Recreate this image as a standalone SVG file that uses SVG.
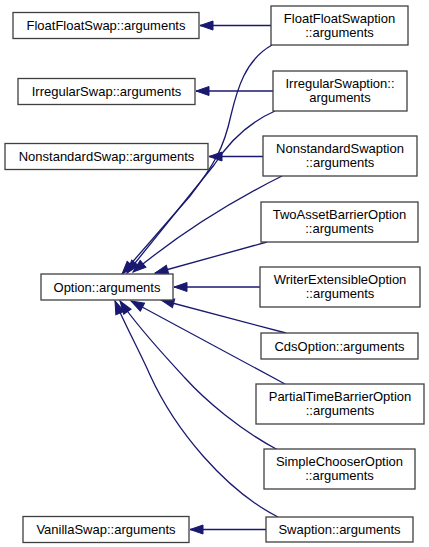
<svg xmlns="http://www.w3.org/2000/svg" width="429" height="547" viewBox="0 0 429 547">
<style>
.box{fill:#fff;stroke:#404040;stroke-width:1.3}
.t{font-family:"Liberation Sans",Arial,sans-serif;font-size:13px;fill:#000;text-anchor:middle}
.e{fill:none;stroke:#191970;stroke-width:1.3;marker-end:url(#ah)}
</style>
<defs>
<marker id="ah" markerUnits="userSpaceOnUse" markerWidth="14" markerHeight="10" refX="13" refY="4.5" orient="auto" overflow="visible">
<path d="M0,0 L13,4.5 L0,9 z" fill="#191970" stroke="#191970" stroke-width="1"/>
</marker>
</defs>
<rect width="429" height="547" fill="#fff"/>
<g id="connectors">
<path class="e" d="M271,25.5 L200,25.5"/>
<path class="e" d="M273,91 L196,91"/>
<path class="e" d="M263,156.5 L209,156.5"/>
<path class="e" d="M260,287 L174,287"/>
<path class="e" d="M266,529.5 L190,529.5"/>
<path class="e" d="M272,45 C245,60 237,90 231,115 C224,148 214,165 190,196 L122,274"/>
<path class="e" d="M275,111 C250,122 230,140 214,165 L127,273"/>
<path class="e" d="M282,176 C250,192 190,225 133,272"/>
<path class="e" d="M267,242 L155,273"/>
<path class="e" d="M286,333 L161,300"/>
<path class="e" d="M285,384 L131,301"/>
<path class="e" d="M278,450 C240,430 205,400 185,378 C165,356 140,330 120,301"/>
<path class="e" d="M278,517 C225,490 175,430 150,375 C140,352 125,325 115,301"/>
</g>
<g id="FloatFloatSwap">
<rect class="box" x="13" y="12.5" width="186" height="26"/>
<text class="t" x="106" y="30">FloatFloatSwap::arguments</text>
</g>
<g id="IrregularSwap">
<rect class="box" x="18" y="78.5" width="177" height="26"/>
<text class="t" x="106.5" y="96">IrregularSwap::arguments</text>
</g>
<g id="NonstandardSwap">
<rect class="box" x="5" y="143.5" width="203" height="26"/>
<text class="t" x="106.5" y="161">NonstandardSwap::arguments</text>
</g>
<g id="Option">
<rect class="box" x="41" y="274" width="132" height="26"/>
<text class="t" x="107" y="291.5">Option::arguments</text>
</g>
<g id="VanillaSwap">
<rect class="box" x="23" y="516.5" width="166" height="26"/>
<text class="t" x="106" y="534">VanillaSwap::arguments</text>
</g>
<g id="FloatFloatSwaption">
<rect class="box" x="271" y="6" width="137" height="39"/>
<text class="t" x="339.5" y="22.5">FloatFloatSwaption</text>
<text class="t" x="339.5" y="37">::arguments</text>
</g>
<g id="IrregularSwaption">
<rect class="box" x="273" y="71" width="134" height="40"/>
<text class="t" x="340" y="88">IrregularSwaption::</text>
<text class="t" x="340" y="102">arguments</text>
</g>
<g id="NonstandardSwaption">
<rect class="box" x="263" y="136" width="154" height="40"/>
<text class="t" x="340" y="153">NonstandardSwaption</text>
<text class="t" x="340" y="167">::arguments</text>
</g>
<g id="TwoAssetBarrierOption">
<rect class="box" x="261" y="202" width="157" height="40"/>
<text class="t" x="339.5" y="219">TwoAssetBarrierOption</text>
<text class="t" x="339.5" y="233">::arguments</text>
</g>
<g id="WriterExtensibleOption">
<rect class="box" x="260" y="267" width="160" height="40"/>
<text class="t" x="340" y="284">WriterExtensibleOption</text>
<text class="t" x="340" y="298">::arguments</text>
</g>
<g id="CdsOption">
<rect class="box" x="261" y="333" width="157" height="26"/>
<text class="t" x="339.5" y="350.5">CdsOption::arguments</text>
</g>
<g id="PartialTimeBarrierOption">
<rect class="box" x="256" y="384" width="168" height="40"/>
<text class="t" x="340" y="401">PartialTimeBarrierOption</text>
<text class="t" x="340" y="415">::arguments</text>
</g>
<g id="SimpleChooserOption">
<rect class="box" x="264" y="449" width="151" height="40"/>
<text class="t" x="339.5" y="466">SimpleChooserOption</text>
<text class="t" x="339.5" y="480">::arguments</text>
</g>
<g id="Swaption">
<rect class="box" x="266" y="517" width="147" height="25"/>
<text class="t" x="339.5" y="534">Swaption::arguments</text>
</g>
</svg>
